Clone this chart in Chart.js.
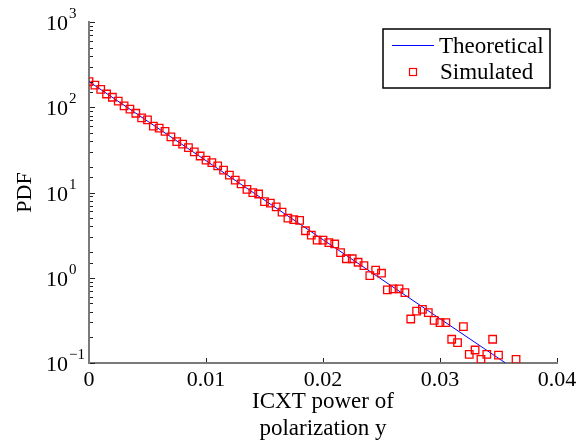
<!DOCTYPE html>
<html lang="en">
<head>
<meta charset="utf-8" />
<title>PDF of ICXT power</title>
<script src="https://cdnjs.cloudflare.com/ajax/libs/Chart.js/4.4.0/chart.umd.js"></script>
<style>
    html, body { margin: 0; padding: 0; background: #fff; }
    canvas { display: block; }
</style>
</head>
<body>
<canvas id="canvas" width="587" height="445"></canvas>
<script>
// values
const simX = [0, 0.0005, 0.001, 0.0015, 0.002, 0.0025, 0.003, 0.0035, 0.004, 0.0045,
    0.005, 0.0055, 0.006, 0.0065, 0.007, 0.0075, 0.008, 0.0085, 0.009, 0.0095,
    0.01, 0.0105, 0.011, 0.0115, 0.012, 0.0125, 0.013, 0.0135, 0.014, 0.0145,
    0.015, 0.0155, 0.016, 0.0165, 0.017, 0.0175, 0.018, 0.0185, 0.019, 0.0195,
    0.02, 0.0205, 0.021, 0.0215, 0.022, 0.0225, 0.023, 0.0235, 0.024, 0.0245,
    0.025, 0.0255, 0.026, 0.0265, 0.027, 0.0275, 0.028, 0.0285, 0.029, 0.0295,
    0.03, 0.0305, 0.031, 0.0315, 0.032, 0.0325, 0.033, 0.0335, 0.034, 0.0345,
    0.035, 0.0365];
const simY = [200, 182, 162, 143, 131, 118, 104, 95, 85, 75,
    71, 60, 57, 52, 45, 39.5, 37, 33.6, 30, 26.8,
    24, 22.4, 20.5, 18.3, 16.0, 14.0, 12.6, 10.9, 9.95, 9.6,
    7.8, 7.5, 6.8, 5.9, 5.0, 4.8, 4.7, 3.56, 3.17, 2.77,
    2.77, 2.58, 2.49, 1.97, 1.67, 1.67, 1.52, 1.39, 1.06, 1.23,
    1.13, 0.72, 0.74, 0.74, 0.67, 0.328, 0.407, 0.426, 0.389, 0.317,
    0.297, 0.297, 0.19, 0.173, 0.267, 0.126, 0.142, 0.110, 0.126, 0.19,
    0.124, 0.110];
const theoX = [0, 0.0356];
const theoY = [200, 0.1];

const yDecades = [0.1, 1, 10, 100, 1000];
const yExponents = ['\u22121', '0', '1', '2', '3'];
const xLabel = ['ICXT power of', 'polarization y'];
const yLabel = 'PDF';

const serif = '"Liberation Serif", "Times New Roman", serif';

const extras = {
    id: 'extras',
    afterDraw(chart) {
        const ctx = chart.ctx;
        const area = chart.chartArea;
        const xs = chart.scales.x;
        const ys = chart.scales.y;
        ctx.save();

        // ticks pointing inward
        ctx.strokeStyle = '#222';
        ctx.lineWidth = 1;
        ys.ticks.forEach(t => {
            const py = Math.round(ys.getPixelForValue(t.value)) + 0.5;
            const lg = Math.log10(t.value);
            const len = Math.abs(lg - Math.round(lg)) < 1e-6 ? 5 : 3;
            ctx.beginPath();
            ctx.moveTo(area.left + 1, py);
            ctx.lineTo(area.left + 1 + len, py);
            ctx.stroke();
        });
        xs.ticks.forEach(t => {
            if (t.value === 0) return;
            const px = Math.round(xs.getPixelForValue(t.value)) + 0.5;
            ctx.beginPath();
            ctx.moveTo(px, area.bottom - 1);
            ctx.lineTo(px, area.bottom - 5);
            ctx.stroke();
        });

        // y labels as 10^n
        ctx.fillStyle = '#000';
        ctx.textAlign = 'left';
        ctx.textBaseline = 'alphabetic';
        yDecades.forEach((v, i) => {
            const py = ys.getPixelForValue(v);
            ctx.font = '22px ' + serif;
            ctx.fillText('10', 46, py + 8);
            const w = ctx.measureText('10').width;
            ctx.font = '15px ' + serif;
            ctx.fillText(yExponents[i], 46 + w + 1, py - 4);
        });

        // legend box
        const lx = area.right - 174, ly = area.top + 7, lw = 167, lh = 59;
        ctx.fillStyle = '#fff';
        ctx.fillRect(lx, ly, lw, lh);
        ctx.strokeStyle = '#000';
        ctx.lineWidth = 1.5;
        ctx.strokeRect(lx, ly, lw, lh);

        const ds = chart.data.datasets;
        ctx.strokeStyle = ds[0].borderColor;
        ctx.lineWidth = 1;
        ctx.beginPath();
        ctx.moveTo(lx + 9, ly + 16.5);
        ctx.lineTo(lx + 51, ly + 16.5);
        ctx.stroke();

        ctx.strokeStyle = ds[1].borderColor;
        ctx.lineWidth = 1.2;
        ctx.strokeRect(lx + 26.5, ly + 39.5, 7, 7);

        ctx.fillStyle = '#000';
        ctx.font = '23px ' + serif;
        ctx.fillText(ds[0].label, lx + 56, ly + 24);
        ctx.fillText(ds[1].label, lx + 57, ly + 50);

        ctx.restore();
    }
};

new Chart('canvas', {
    type: 'scatter',
    data: {
        datasets: [{
            label: 'Theoretical',
            data: theoX.map((x, i) => ({x: x, y: theoY[i]})),
            showLine: true,
            borderColor: '#0000ff',
            borderWidth: 1,
            pointRadius: 0,
            order: 2
        }, {
            label: 'Simulated',
            data: simX.map((x, i) => ({x: x, y: simY[i]})),
            pointStyle: 'rect',
            pointRadius: 5.3,
            borderColor: '#ff0000',
            backgroundColor: 'rgba(0,0,0,0)',
            pointBorderWidth: 1.3,
            order: 1
        }]
    },
    options: {
        responsive: false,
        animation: false,
        events: [],
        layout: { padding: { left: 0, right: 30, top: 22, bottom: 0 } },
        plugins: {
            legend: { display: false },
            tooltip: { enabled: false }
        },
        scales: {
            x: {
                type: 'linear',
                min: 0,
                max: 0.04,
                afterFit(scale) { scale.height = 82; },
                grid: { display: false, drawTicks: false, tickLength: 0 },
                border: { display: true, color: '#7a7a7a', width: 2 },
                ticks: {
                    stepSize: 0.01,
                    padding: 4,
                    color: '#000',
                    font: { family: serif, size: 22 },
                    maxRotation: 0,
                    callback: v => String(+v.toFixed(2))
                },
                title: {
                    display: true,
                    text: xLabel,
                    color: '#000',
                    font: { family: serif, size: 23, lineHeight: 1.17 },
                    padding: { top: 0, bottom: 2.5 }
                }
            },
            y: {
                type: 'logarithmic',
                min: 0.1,
                max: 1000,
                afterFit(scale) { scale.width = 89; },
                grid: { display: false, drawTicks: false, tickLength: 0 },
                border: { display: true, color: '#7a7a7a', width: 2 },
                ticks: { display: false },
                title: {
                    display: true,
                    text: yLabel,
                    color: '#000',
                    font: { family: serif, size: 22 },
                    padding: { top: 12, bottom: 0 }
                }
            }
        }
    },
    plugins: [extras]
});
</script>
</body>
</html>
